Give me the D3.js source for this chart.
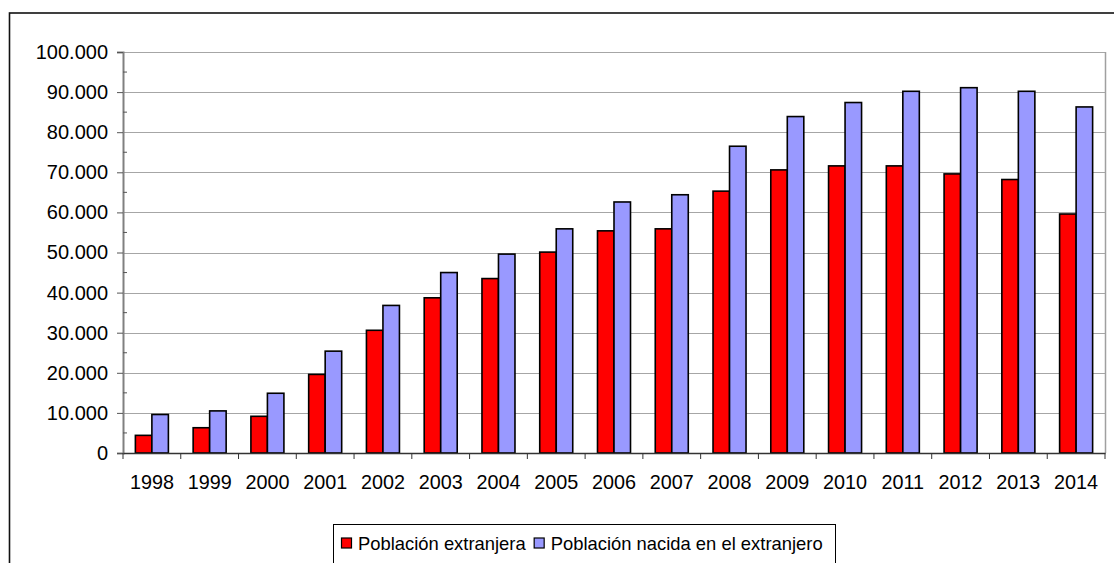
<!DOCTYPE html>
<html>
<head>
<meta charset="utf-8">
<script src="https://cdn.jsdelivr.net/npm/d3@7"></script>
<style>
  body { margin: 0; background: #fff; }
  svg { display: block; font-family: "Liberation Sans", Arial, sans-serif; }
</style>
</head>
<body>
<script>
// Data
var years = ['1998','1999','2000','2001','2002','2003','2004','2005','2006','2007','2008','2009','2010','2011','2012','2013','2014']
var extranjera = [4400, 6300, 9150, 19600, 30600, 38700, 43500, 50100, 55400, 55900, 65300, 70600, 71600, 71600, 69600, 68200, 59600]
var nacida = [9600, 10500, 14900, 25400, 36800, 45000, 49600, 55900, 62600, 64400, 76500, 83900, 87400, 90200, 91100, 90200, 86300]
var seriesNames = ['Población extranjera', 'Población nacida en el extranjero']
var seriesColors = ['#ff0000', '#9999ff']
var yTicks = [0, 10000, 20000, 30000, 40000, 50000, 60000, 70000, 80000, 90000, 100000]

var width = 1114, height = 563
var plot = {left: 123, right: 1105, top: 52, bottom: 453}

var svg = d3.select('body').append('svg')
    .attr('width', width)
    .attr('height', height)

// outer chart border (right/bottom run off the picture)
svg.append('rect')
    .attr('x', 9.5).attr('y', 13)
    .attr('width', width + 20).attr('height', height + 20)
    .attr('fill', 'none')
    .attr('stroke', '#111')
    .attr('stroke-width', 1.6)

var xScale = d3.scaleBand()
    .domain(years)
    .range([plot.left, plot.right])
    .padding(0)

// Excel style gap of 150% -> outer padding 0.75 of a bar on each side
var xInner = d3.scaleBand()
    .domain(d3.range(seriesNames.length))
    .range([0, xScale.bandwidth()])
    .paddingInner(0)
    .paddingOuter(0.75)

var yScale = d3.scaleLinear()
    .domain([0, 100000])
    .range([plot.bottom, plot.top])

var fmt = d3.formatLocale({decimal: ',', thousands: '.', grouping: [3], currency: ['', '']}).format(',d')

// gridlines
svg.append('g').selectAll('line')
    .data(yTicks.slice(1))
    .join('line')
    .attr('x1', plot.left).attr('x2', plot.right)
    .attr('y1', d => Math.round(yScale(d)) + 0.5)
    .attr('y2', d => Math.round(yScale(d)) + 0.5)
    .attr('stroke', '#a6a6a6')
    .attr('stroke-width', 1.2)

// right frame of the plot area
svg.append('line')
    .attr('x1', plot.right + 0.5).attr('x2', plot.right + 0.5)
    .attr('y1', plot.top).attr('y2', plot.bottom)
    .attr('stroke', '#a0a0a0')
    .attr('stroke-width', 1.5)

// bars
var data = years.map((y, i) => ({year: y, values: [extranjera[i], nacida[i]]}))

var groups = svg.append('g').selectAll('g')
    .data(data)
    .join('g')
    .attr('transform', d => 'translate(' + xScale(d.year) + ',0)')

groups.selectAll('rect')
    .data(d => d.values.map((v, k) => ({k: k, v: v})))
    .join('rect')
    .attr('x', d => xInner(d.k))
    .attr('y', d => yScale(d.v))
    .attr('width', xInner.bandwidth())
    .attr('height', d => yScale(0) - yScale(d.v))
    .attr('fill', d => seriesColors[d.k])
    .attr('stroke', '#000')
    .attr('stroke-width', 1.6)

// y axis
var yAxis = svg.append('g')
    .attr('transform', 'translate(' + plot.left + ',0)')
    .call(d3.axisLeft(yScale).tickValues(yTicks).tickFormat(d => fmt(d)).tickSize(6).tickPadding(9))
yAxis.select('.domain').attr('stroke', '#808080').attr('stroke-width', 2)
yAxis.selectAll('.tick line').attr('stroke', '#555')
yAxis.selectAll('text')
    .attr('font-size', '20px')
    .attr('fill', '#000')
    .attr('font-family', '"Liberation Sans", Arial, sans-serif')

// minor ticks inside the plot
svg.append('g').selectAll('line')
    .data(yTicks.slice(1).map(d => d - 5000))
    .join('line')
    .attr('x1', plot.left).attr('x2', plot.left + 4)
    .attr('y1', d => yScale(d)).attr('y2', d => yScale(d))
    .attr('stroke', '#555')

// x axis
var xAxis = svg.append('g')
    .attr('transform', 'translate(0,' + plot.bottom + ')')
    .call(d3.axisBottom(xScale).tickSize(0).tickPadding(22))
xAxis.select('.domain').attr('stroke', '#333').attr('stroke-width', 1.5)
xAxis.selectAll('text')
    .attr('font-size', '19.8px')
    .attr('fill', '#000')
    .attr('font-family', '"Liberation Sans", Arial, sans-serif')

// category boundary ticks
svg.append('g').selectAll('line')
    .data(years.concat(['end']))
    .join('line')
    .attr('x1', d => d === 'end' ? plot.right : xScale(d))
    .attr('x2', d => d === 'end' ? plot.right : xScale(d))
    .attr('y1', plot.bottom).attr('y2', plot.bottom + 6)
    .attr('stroke', '#333')

// legend
var legend = svg.append('g')
legend.append('rect')
    .attr('x', 333.5).attr('y', 524.5)
    .attr('width', 502).attr('height', 60)
    .attr('fill', '#fff')
    .attr('stroke', '#000')
    .attr('stroke-width', 1)

// each item goes right after the previous one's text
var lx = 341
seriesNames.forEach(function(name, i) {
    legend.append('rect')
        .attr('x', lx + 0.5).attr('y', 538)
        .attr('width', 10).attr('height', 10)
        .attr('fill', seriesColors[i])
        .attr('stroke', '#000')
        .attr('stroke-width', 1.2)
    var t = legend.append('text')
        .attr('x', lx + 17)
        .attr('y', 550)
        .attr('font-size', '18.4px')
        .attr('fill', '#000')
        .text(name)
    lx = lx + 17 + t.node().getComputedTextLength() + 8
})
</script>
</body>
</html>
